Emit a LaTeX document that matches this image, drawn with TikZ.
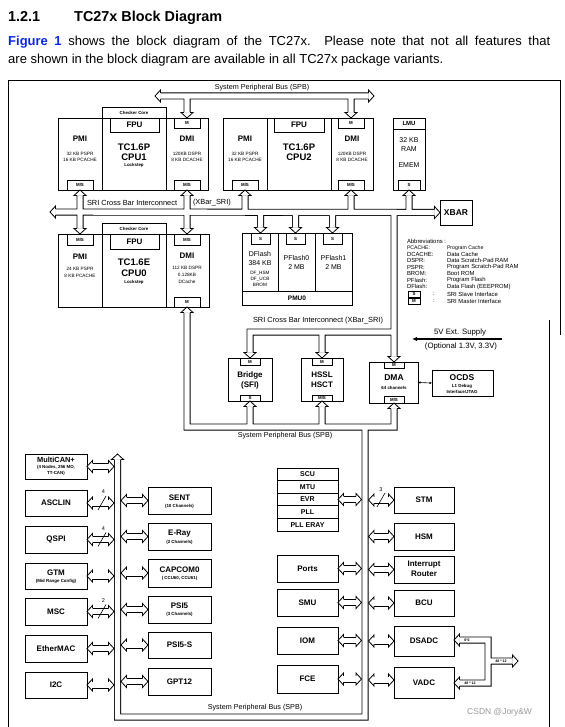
\documentclass[tikz,border=0pt]{standalone}
\usepackage{fontspec}
\setmainfont{Liberation Sans}
\usetikzlibrary{calc,arrows.meta}
\definecolor{figblue}{RGB}{10,40,230}
\newcommand\fs[1]{\fontsize{#1}{#1}\selectfont}
\newcounter{tn}
\newcommand\bx[5]{\pgfmathsetmacro\bxw{#4-(#2)}\pgfmathsetmacro\bxh{#5-(#3)}\node[box,minimum width=\bxw pt,minimum height=\bxh pt] (#1) at (#2,#3) {};}
\newcommand\tx[4][]{\stepcounter{tn}\node[txt,#1] (tx\arabic{tn}) at (#2,#3) {#4};}
\newcommand\hd[2]{\begin{scope}[shift={#1},rotate=#2]\filldraw[hdst] (-5.5,3.1) -- (-5.5,6) -- (0,0) -- (-5.5,-6) -- (-5.5,-3.1);\end{scope}}
\newcommand\pa[2]{\draw[bo] ($#1+(5.5,0)$) -- ($#2+(-5.5,0)$);\draw[bw] ($#1+(5.4,0)$) -- ($#2+(-5.4,0)$);\hd{#1}{180}\hd{#2}{0}}
\begin{document}
\begin{tikzpicture}[x=1pt,y=-1pt,
  box/.style={draw,line width=0.8pt,anchor=north west,inner sep=0,outer sep=0},
  txt/.style={inner sep=0,outer sep=0,align=center},
  hdst/.style={fill=white,draw=black,line width=0.8pt,line join=miter},
  bo/.style={line width=7pt,line join=miter},
  bw/.style={white,line width=5.4pt,line join=miter},
  T/.style={font=\bfseries\fs{8}},
  TT/.style={font=\bfseries\fs{9.5}},
  S/.style={font=\fs{4.7}},
  SB/.style={font=\bfseries\fs{4.4}},
  R/.style={font=\fs{7}},
  AB/.style={font=\fs{5.9},anchor=west},
  BUS/.style={font=\fs{7.2}},
]
\useasboundingbox (0,0) rectangle (564,727);
% heading and paragraph
\node[anchor=base west,inner sep=0,font=\bfseries\fs{14.4}] (h1) at (8,21.5) {1.2.1};
\node[anchor=base west,inner sep=0,font=\bfseries\fs{14.4}] (h2) at (74,21.5) {TC27x Block Diagram};
\node[anchor=base west,inner sep=0,font=\fs{13}] (p1) at (8,45.7) {\makebox[542pt][s]{\textcolor{figblue}{\bfseries Figure 1} shows the block diagram of the TC27x. Please note that not all features that}};
\node[anchor=base west,inner sep=0,font=\fs{13}] (p2) at (8,63.3) {are shown in the block diagram are available in all TC27x package variants.};
% frame
\draw[line width=0.8pt] (8,727) -- (8,80) -- (560,80) -- (560,335);
\draw[line width=0.8pt] (549,320) -- (549,727);

% ---------- boxes ----------
% CPU1
\bx{chk1}{102}{107}{166}{118}
\bx{pmi1}{58}{118}{102}{190}
\bx{cpu1}{102}{118}{166}{190}
\bx{fpu1}{110}{118}{159}{132}
\bx{dmi1}{166}{118}{208}{190}
\bx{dmi1m}{174}{118}{200}{128}
\bx{pmi1ms}{67}{180}{93}{190}
\bx{dmi1ms}{174}{180}{200}{190}
% CPU2
\bx{pmi2}{223}{118}{267}{190}
\bx{cpu2}{267}{118}{331}{190}
\bx{fpu2}{274}{118}{324}{132}
\bx{dmi2}{331}{118}{373}{190}
\bx{dmi2m}{338}{118}{364}{128}
\bx{pmi2ms}{232}{180}{258}{190}
\bx{dmi2ms}{338}{180}{364}{190}
% LMU, XBAR
\bx{lmu}{393}{118}{425}{190}
\bx{lmuh}{393}{118}{425}{129}
\bx{lmus}{398}{180}{420}{190}
\bx{xbar}{440}{200}{472}{225}
% CPU0
\bx{chk0}{102}{223}{166}{234}
\bx{pmi0}{58}{234}{102}{307}
\bx{cpu0}{102}{234}{166}{307}
\bx{dmi0}{166}{234}{209}{307}
\bx{pmi0ms}{67}{234}{93}{245}
\bx{fpu0}{110}{234}{159}{249}
\bx{dmi0ms}{174}{234}{200}{245}
\bx{dmi0m}{174}{297}{200}{307}
% PMU0
\bx{pmu}{242}{233}{352}{305}
\bx{dfl}{242}{233}{278}{291}
\bx{pf0}{278}{233}{315}{291}
\bx{pf1}{315}{233}{352}{291}
\bx{pmus1}{251}{233}{270}{244}
\bx{pmus2}{286}{233}{305}{244}
\bx{pmus3}{323}{233}{342}{244}
% Bridge, HSSL, DMA, OCDS
\bx{bridge}{228}{358}{272}{401}
\bx{bridgem}{240}{358}{260}{365}
\bx{bridges}{240}{395}{260}{401}
\bx{hssl}{301}{358}{343}{401}
\bx{hsslm}{312}{358}{332}{365}
\bx{hsslms}{312}{395}{332}{401}
\bx{dma}{369}{362}{418}{403}
\bx{dmam}{384}{362}{404}{368}
\bx{dmams}{384}{396}{404}{403}
\bx{ocds}{432}{370}{493}{396}
% abbreviation keys
\bx{abS}{408}{291}{420}{297}
\bx{abM}{408}{298}{420}{304}
% left peripherals
\bx{mcan}{25}{454}{87}{479}
\bx{asclin}{25}{490}{87}{516}
\bx{qspi}{25}{526}{87}{553}
\bx{gtm}{25}{563}{87}{589}
\bx{msc}{25}{598}{87}{625}
\bx{ether}{25}{635}{87}{662}
\bx{iic}{25}{672}{87}{698}
% middle peripherals
\bx{sent}{148}{487}{211}{514}
\bx{eray}{148}{523}{211}{550}
\bx{capcom}{148}{559}{211}{587}
\bx{psi5}{148}{596}{211}{623}
\bx{psi5s}{148}{632}{211}{658}
\bx{gpt}{148}{668}{211}{695}
% SCU stack and right-left column
\bx{scu}{277}{468}{338}{480.6}
\bx{mtu}{277}{480.6}{338}{493.2}
\bx{evr}{277}{493.2}{338}{505.8}
\bx{pll}{277}{505.8}{338}{518.4}
\bx{pller}{277}{518.4}{338}{531}
\bx{ports}{277}{555}{338}{582}
\bx{smu}{277}{589}{338}{616}
\bx{iom}{277}{627}{338}{654}
\bx{fce}{277}{665}{338}{693}
% right column
\bx{stm}{394}{487}{454}{513}
\bx{hsm}{394}{523}{454}{550}
\bx{ir}{394}{556}{454}{583}
\bx{bcu}{394}{590}{454}{616}
\bx{dsadc}{394}{626}{454}{656}
\bx{vadc}{394}{667}{454}{698}

% ---------- buses (outline union) ----------
\coordinate (sriL) at (50,212);
\coordinate (sriR) at (xbar.west);
\coordinate (spbL) at (155,96);
\coordinate (spbR) at (374,96);
\def\busnet{
 (160.5,96) -- (368.5,96)
 (187,96) -- ($(dmi1m.north)+(0,-5.5)$)
 (351,96) -- ($(dmi2m.north)+(0,-5.5)$)
 (55.5,212) -- ($(xbar.west)+(-5.5,0)$)
 ($(pmi1ms.south)+(0,5.5)$) -- ($(pmi0ms.north)+(0,-5.5)$)
 ($(dmi1ms.south)+(0,5.5)$) -- ($(dmi0ms.north)+(0,-5.5)$)
 ($(pmi2ms.south)+(0,5.5)$) -- (pmi2ms.south |- sriL)
 ($(dmi2ms.south)+(0,5.5)$) -- (dmi2ms.south |- sriL)
 ($(lmus.south)+(0,5.5)$) -- (lmus.south |- sriL)
 (pmus1.north |- sriL) -- ($(pmus1.north)+(0,-5.5)$)
 (pmus2.north |- sriL) -- ($(pmus2.north)+(0,-5.5)$)
 (pmus3.north |- sriL) -- ($(pmus3.north)+(0,-5.5)$)
 (dmam.north |- sriL) -- ($(dmam.north)+(0,-5.5)$)
 (394,332) -- (bridgem.north |- 0,332) -- ($(bridgem.north)+(0,-5.5)$)
 (hsslm.north |- 0,332) -- ($(hsslm.north)+(0,-5.5)$)
 ($(dmi0m.south)+(0,5.5)$) -- (187,427) -- (394,427) -- ($(dmams.south)+(0,5.5)$)
 (bridges.south |- 0,427) -- ($(bridges.south)+(0,5.5)$)
 (hsslms.south |- 0,427) -- ($(hsslms.south)+(0,5.5)$)
 (365,427) -- (365,717) -- (117.5,717) -- (117.5,459.5)
 ($(dsadc.east |- 0,640)+(5.5,0)$) -- (488,640) -- (488,683) -- ($(vadc.east |- 0,683)+(5.5,0)$)
 (488,661) -- (512.5,661)
}
\draw[bo] \busnet;
\draw[bw] \busnet;
% heads
\hd{(spbL)}{180}\hd{(spbR)}{0}
\hd{(dmi1m.north)}{-90}\hd{(dmi2m.north)}{-90}
\hd{(sriL)}{180}\hd{(sriR)}{0}
\hd{(pmi1ms.south)}{90}\hd{(pmi0ms.north)}{-90}
\hd{(dmi1ms.south)}{90}\hd{(dmi0ms.north)}{-90}
\hd{(pmi2ms.south)}{90}\hd{(dmi2ms.south)}{90}\hd{(lmus.south)}{90}
\hd{(pmus1.north)}{-90}\hd{(pmus2.north)}{-90}\hd{(pmus3.north)}{-90}
\hd{(dmam.north)}{-90}\hd{(bridgem.north)}{-90}\hd{(hsslm.north)}{-90}
\hd{(dmi0m.south)}{90}\hd{(dmams.south)}{90}\hd{(bridges.south)}{90}\hd{(hsslms.south)}{90}
\hd{(117.5,454)}{90}
\hd{(dsadc.east |- 0,640)}{180}\hd{(vadc.east |- 0,683)}{180}\hd{(518,661)}{0}

% peripheral arrows
\coordinate (lbl) at (114,0);
\coordinate (lbr) at (121,0);
\coordinate (rbl) at (361.5,0);
\coordinate (rbr) at (368.5,0);
\foreach \n in {mcan,asclin,qspi,gtm,msc,ether,iic}{\pa{(\n.east)}{(\n.east -| lbl)}}
\foreach \n in {sent,eray,capcom,psi5,psi5s,gpt}{\pa{(\n.west -| lbr)}{(\n.west)}}
\foreach \n in {evr,ports,smu,iom,fce}{\pa{(\n.east)}{(\n.east -| rbl)}}
\foreach \n in {stm,hsm,ir,bcu,dsadc}{\pa{(\n.west -| rbr)}{(\n.west)}}
\coordinate (vadcA) at (394,680);
\pa{(vadcA -| rbr)}{(vadcA)}
% bus-width marks
\draw[line width=0.6pt] (98,510) -- (106,496) (98,546.5) -- (106,532.5) (98,618.5) -- (106,604.5) (377,507) -- (385,493);
\tx[font=\fs{5.5}]{103.5}{492}{4}
\tx[font=\fs{5.5}]{103.5}{528.5}{4}
\tx[font=\fs{5.5}]{103.5}{600.5}{2}
\tx[font=\fs{5.5}]{381}{489.5}{3}
% supply and debug arrows
\coordinate (v5a) at (502,339);
\coordinate (v5b) at (412,339);
\draw[line width=1.1pt,-{Latex[length=5pt,width=4.5pt]}] (v5a) -- (v5b);
\draw[line width=0.6pt,{Latex[length=2.5pt,width=2.5pt]}-{Latex[length=2.5pt,width=2.5pt]}] (dma.east) -- (ocds.west);

% ---------- texts ----------
\tx[SB]{134}{112.5}{Checker Core}
\tx[T]{134.5}{125}{FPU}
\tx[T]{80}{139}{PMI}
\tx[S]{80}{153.5}{32 KB PSPR}
\tx[S]{80}{159.5}{16 KB PCACHE}
\tx[TT]{134}{147}{TC1.6P}
\tx[TT]{134}{157.5}{CPU1}
\tx[SB]{134}{165}{Lockstep}
\tx[T]{187}{138.5}{DMI}
\tx[S]{187}{153.5}{120KB DSPR}
\tx[S]{187}{159.5}{8 KB DCACHE}
\tx[SB]{187}{123}{M}
\tx[SB]{80}{185}{M/S}
\tx[SB]{187}{185}{M/S}
% CPU2
\tx[T]{299}{125}{FPU}
\tx[T]{245}{139}{PMI}
\tx[S]{245}{153.5}{32 KB PSPR}
\tx[S]{245}{159.5}{16 KB PCACHE}
\tx[TT]{299}{147}{TC1.6P}
\tx[TT]{299}{157.5}{CPU2}
\tx[T]{352}{138.5}{DMI}
\tx[S]{352}{153.5}{120KB DSPR}
\tx[S]{352}{159.5}{8 KB DCACHE}
\tx[SB]{351}{123}{M}
\tx[SB]{245}{185}{M/S}
\tx[SB]{351}{185}{M/S}
% LMU, XBAR
\tx[font=\bfseries\fs{6}]{409}{123.5}{LMU}
\tx[R]{409}{140}{32 KB}
\tx[R]{409}{149}{RAM}
\tx[R]{409}{165}{EMEM}
\tx[SB]{409}{185}{S}
\tx[font=\bfseries\fs{8.5}]{456}{212.5}{XBAR}
% SRI text
\tx[font=\fs{7.4},anchor=west]{87}{203}{SRI Cross Bar Interconnect}
\tx[font=\fs{7.4},anchor=west]{193}{203}{(XBar\_SRI)}
\tx[BUS]{262}{87.5}{System Peripheral Bus (SPB)}
% CPU0
\tx[SB]{134}{228.5}{Checker Core}
\tx[T]{134.5}{241.5}{FPU}
\tx[T]{80}{256.5}{PMI}
\tx[S]{80}{269}{24 KB PSPR}
\tx[S]{80}{276}{8 KB PCACHE}
\tx[TT]{134}{262.5}{TC1.6E}
\tx[TT]{134}{273.5}{CPU0}
\tx[SB]{134}{282}{Lockstep}
\tx[T]{187}{256}{DMI}
\tx[S]{187}{268}{112 KB DSPR}
\tx[S]{187}{275}{0.128KB}
\tx[S]{187}{282}{DCache}
\tx[SB]{80}{239.5}{M/S}
\tx[SB]{187}{239.5}{M/S}
\tx[SB]{187}{302}{M}
% PMU0
\tx[SB]{260.5}{238.5}{S}
\tx[SB]{295.5}{238.5}{S}
\tx[SB]{332.5}{238.5}{S}
\tx[R]{260}{254}{DFlash}
\tx[R]{260}{263}{384 KB}
\tx[S]{260}{273}{DF\_HSM}
\tx[S]{260}{279.5}{DF\_UCB}
\tx[S]{260}{285}{BROM}
\tx[R]{296.5}{258}{PFlash0}
\tx[R]{296.5}{267.5}{2 MB}
\tx[R]{333.5}{258}{PFlash1}
\tx[R]{333.5}{267.5}{2 MB}
\tx[font=\bfseries\fs{6.5}]{297}{298}{PMU0}
% abbreviations
\tx[AB]{407}{241}{Abbreviations :}
\tx[AB,font=\fs{5.2}]{407}{248}{PCACHE:}
\tx[AB,font=\fs{5.2}]{447}{248}{Program Cache}
\tx[AB]{407}{254.3}{DCACHE:}
\tx[AB]{447}{254.3}{Data Cache}
\tx[AB]{407}{260.8}{DSPR:}
\tx[AB]{447}{260.8}{Data Scratch-Pad RAM}
\tx[AB]{407}{267.3}{PSPR:}
\tx[AB]{447}{267.3}{Program Scratch-Pad RAM}
\tx[AB]{407}{273.8}{BROM:}
\tx[AB]{447}{273.8}{Boot ROM}
\tx[AB]{407}{280.3}{PFlash:}
\tx[AB]{447}{280.3}{Program Flash}
\tx[AB]{407}{286.8}{DFlash:}
\tx[AB]{447}{286.8}{Data Flash  (EEEPROM)}
\tx[SB]{414}{294}{S}
\tx[SB]{414}{301}{M}
\tx[AB]{433}{293.8}{:}
\tx[AB]{433}{300.8}{:}
\tx[AB]{447}{294}{SRI Slave Interface}
\tx[AB]{447}{301}{SRI Master Interface}
% lower SRI, supply
\tx[font=\fs{7.4}]{318}{320.5}{SRI Cross Bar Interconnect (XBar\_SRI)}
\tx[font=\fs{7.8}]{460}{332}{5V Ext. Supply}
\tx[font=\fs{7.8}]{461}{346.5}{(Optional 1.3V, 3.3V)}
% Bridge HSSL DMA OCDS
\tx[SB]{250}{361.5}{M}
\tx[SB]{250}{398}{S}
\tx[T]{250}{375}{Bridge}
\tx[T]{250}{385}{(SFI)}
\tx[SB]{322}{361.5}{M}
\tx[SB]{322}{398}{M/S}
\tx[T]{322}{375}{HSSL}
\tx[T]{322}{384.5}{HSCT}
\tx[SB]{394}{365}{M}
\tx[SB]{394}{399.5}{M/S}
\tx[font=\bfseries\fs{8.5}]{394}{378}{DMA}
\tx[SB]{394}{388}{64 channels}
\tx[font=\bfseries\fs{8.5}]{462}{377.5}{OCDS}
\tx[SB]{462}{386}{L1 Debug}
\tx[SB]{462}{391.5}{Interface/JTAG}
\tx[BUS]{285}{435.5}{System Peripheral Bus (SPB)}
\tx[BUS]{255}{708}{System Peripheral Bus (SPB)}
% left peripherals
\tx[font=\bfseries\fs{7.4}]{56}{459.5}{MultiCAN+}
\tx[SB]{56}{467.5}{(4 Nodes, 256 MO,}
\tx[SB]{56}{473.5}{TT-CAN)}
\tx[T]{56}{503}{ASCLIN}
\tx[T]{56}{539.5}{QSPI}
\tx[T]{56}{572.5}{GTM}
\tx[SB]{56}{581}{(Mid Range Config)}
\tx[T]{56}{611.5}{MSC}
\tx[T]{56}{648.5}{EtherMAC}
\tx[T]{56}{685}{I2C}
% middle peripherals
\tx[T]{179.5}{497.5}{SENT}
\tx[SB]{179.5}{506.5}{(10 Channels)}
\tx[T]{179.5}{533.5}{E-Ray}
\tx[SB]{179.5}{542}{(2 Channels)}
\tx[T]{179.5}{570}{CAPCOM0}
\tx[SB]{179.5}{578}{( CCU60, CCU61)}
\tx[T]{179.5}{606}{PSI5}
\tx[SB]{179.5}{614.5}{(3 Channels)}
\tx[T]{179.5}{645}{PSI5-S}
\tx[T]{179.5}{681.5}{GPT12}
% SCU stack etc
\tx[font=\bfseries\fs{7}]{307.5}{474.3}{SCU}
\tx[font=\bfseries\fs{7}]{307.5}{486.9}{MTU}
\tx[font=\bfseries\fs{7}]{307.5}{499.5}{EVR}
\tx[font=\bfseries\fs{7}]{307.5}{512.1}{PLL}
\tx[font=\bfseries\fs{7}]{307.5}{524.7}{PLL ERAY}
\tx[T]{307.5}{568.5}{Ports}
\tx[T]{307.5}{602.5}{SMU}
\tx[T]{307.5}{640.5}{IOM}
\tx[T]{307.5}{679}{FCE}
% right column
\tx[T]{424}{500}{STM}
\tx[T]{424}{536.5}{HSM}
\tx[T]{424}{565}{Interrupt}
\tx[T]{424}{574}{Router}
\tx[T]{424}{603}{BCU}
\tx[T]{424}{641}{DSADC}
\tx[T]{424}{682.5}{VADC}
\tx[font=\bfseries\fs{3.6}]{467}{640}{6*2}
\tx[font=\bfseries\fs{3.6}]{501}{661}{48 * 12}
\tx[font=\bfseries\fs{3.6}]{470}{683}{48 * 12}
% watermark
\node[anchor=base west,inner sep=0,font=\fs{8.5},text=black!40] (wm) at (467,714.5) {CSDN @Jory\&W};
\end{tikzpicture}
\end{document}
